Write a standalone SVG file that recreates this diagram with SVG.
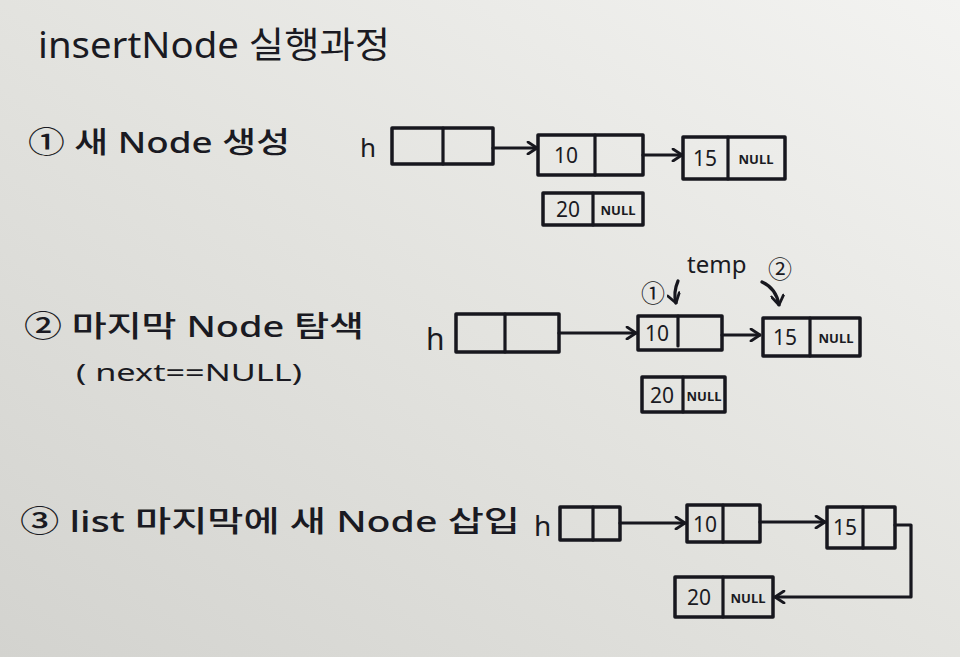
<svg xmlns="http://www.w3.org/2000/svg" width="960" height="657" viewBox="0 0 960 657">
<defs>
<linearGradient id="bg" x1="0" y1="1" x2="1" y2="0">
<stop offset="0" stop-color="#d3d3cf"/>
<stop offset="0.5" stop-color="#e3e3df"/>
<stop offset="1" stop-color="#f3f3f1"/>
</linearGradient>
<marker id="arr" viewBox="0 0 12 14" refX="11" refY="7" markerWidth="12" markerHeight="14" markerUnits="userSpaceOnUse" orient="auto">
<path d="M2,1 L11,7 L2,13" fill="none" stroke="#17171e" stroke-width="2.8" stroke-linecap="round" stroke-linejoin="round"/>
</marker>
<style>
.box{fill:none;stroke:#17171e;stroke-width:3.5;stroke-linejoin:round}
.ln{fill:none;stroke:#17171e;stroke-width:3.2;stroke-linecap:round;stroke-linejoin:round}
.t{font-family:"Noto Sans","Noto Sans CJK KR",sans-serif;fill:#1a1a22}
.lab{font-size:29px;font-weight:500}
.v{font-size:21px;text-anchor:middle}
.n{font-size:13px;font-weight:bold;text-anchor:middle}
</style>
</defs>
<rect width="960" height="657" fill="url(#bg)"/>

<g id="title"><text class="t" x="38" y="58" font-size="36" textLength="352" lengthAdjust="spacingAndGlyphs">insertNode 실행과정</text></g>

<!-- Section 1 -->
<g id="step1-label"><text class="t lab" x="28" y="153" textLength="262" lengthAdjust="spacingAndGlyphs">① 새 Node 생성</text></g>
<g id="s1-h"><text class="t" x="360" y="157" font-size="26">h</text>
<rect class="box" x="392" y="128" width="101" height="36"/><line class="ln" x1="443" y1="128" x2="443" y2="164"/></g>
<g id="s1-n10"><rect class="box" x="538" y="135" width="105" height="40"/><line class="ln" x1="595" y1="135" x2="595" y2="175"/>
<text class="t v" x="566" y="163">10</text></g>
<g id="s1-n15"><rect class="box" x="683" y="137" width="102" height="42"/><line class="ln" x1="728" y1="137" x2="728" y2="179"/>
<text class="t v" x="705" y="166">15</text><text class="t n" x="756" y="164">NULL</text></g>
<g id="s1-n20"><rect class="box" x="543" y="193" width="100" height="32"/><line class="ln" x1="593" y1="193" x2="593" y2="225"/>
<text class="t v" x="568" y="217">20</text><text class="t n" x="618" y="215">NULL</text></g>

<!-- Section 2 -->
<g id="step2-label"><text class="t lab" x="24" y="337" textLength="340" lengthAdjust="spacingAndGlyphs">② 마지막 Node 탐색</text>
<text class="t" x="76" y="381" font-size="24" textLength="226" lengthAdjust="spacingAndGlyphs">( next==NULL)</text></g>
<g id="s2-h"><text class="t" x="426" y="350" font-size="30">h</text>
<rect class="box" x="456" y="314" width="103" height="38"/><line class="ln" x1="505" y1="314" x2="505" y2="352"/></g>
<g id="s2-n10"><rect class="box" x="638" y="316" width="84" height="34"/><line class="ln" x1="678" y1="316" x2="678" y2="346"/>
<text class="t v" x="657" y="341">10</text></g>
<g id="s2-n15"><rect class="box" x="763" y="318" width="97" height="38"/><line class="ln" x1="810" y1="318" x2="810" y2="356"/>
<text class="t v" x="785" y="345">15</text><text class="t n" x="836" y="343">NULL</text></g>
<g id="s2-n20"><rect class="box" x="642" y="377" width="83" height="35"/><line class="ln" x1="683" y1="377" x2="683" y2="412"/>
<text class="t v" x="662" y="403">20</text><text class="t n" x="704" y="401">NULL</text></g>
<g id="s2-temp"><text class="t" x="687" y="273" font-size="24">temp</text>
<text class="t" x="641" y="302" font-size="24">①</text>
<text class="t" x="768" y="278" font-size="24">②</text></g>

<!-- Section 3 -->
<g id="step3-label"><text class="t lab" x="20" y="532" textLength="500" lengthAdjust="spacingAndGlyphs">③ list 마지막에 새 Node 삽입</text></g>
<g id="s3-h"><text class="t" x="534" y="536" font-size="28">h</text>
<rect class="box" x="560" y="507" width="60" height="33"/><line class="ln" x1="593" y1="507" x2="593" y2="540"/></g>
<g id="s3-n10"><rect class="box" x="687" y="505" width="73" height="37"/><line class="ln" x1="723" y1="505" x2="723" y2="542"/>
<text class="t v" x="705" y="532">10</text></g>
<g id="s3-n15"><rect class="box" x="827" y="507" width="68" height="41"/><line class="ln" x1="863" y1="507" x2="863" y2="548"/>
<text class="t v" x="845" y="535">15</text></g>
<g id="s3-n20"><rect class="box" x="675" y="577" width="98" height="40"/><line class="ln" x1="723" y1="577" x2="723" y2="617"/>
<text class="t v" x="699" y="605">20</text><text class="t n" x="748" y="603">NULL</text></g>

<g id="connectors">
<line class="ln" x1="493" y1="148" x2="537" y2="148" marker-end="url(#arr)"/>
<line class="ln" x1="643" y1="155" x2="682" y2="155" marker-end="url(#arr)"/>
<line class="ln" x1="559" y1="333" x2="636" y2="333" marker-end="url(#arr)"/>
<line class="ln" x1="722" y1="335" x2="760" y2="335" marker-end="url(#arr)"/>
<path class="ln" d="M678,281 C675,288 674,296 676,303" marker-end="url(#arr)"/>
<path class="ln" d="M762,282 C771,286 777,293 779,305" marker-end="url(#arr)"/>
<line class="ln" x1="620" y1="523" x2="685" y2="523" marker-end="url(#arr)"/>
<line class="ln" x1="760" y1="522" x2="825" y2="522" marker-end="url(#arr)"/>
<path class="ln" d="M895,525 L911,525 L911,597 L775,597" marker-end="url(#arr)"/>
</g>
</svg>
